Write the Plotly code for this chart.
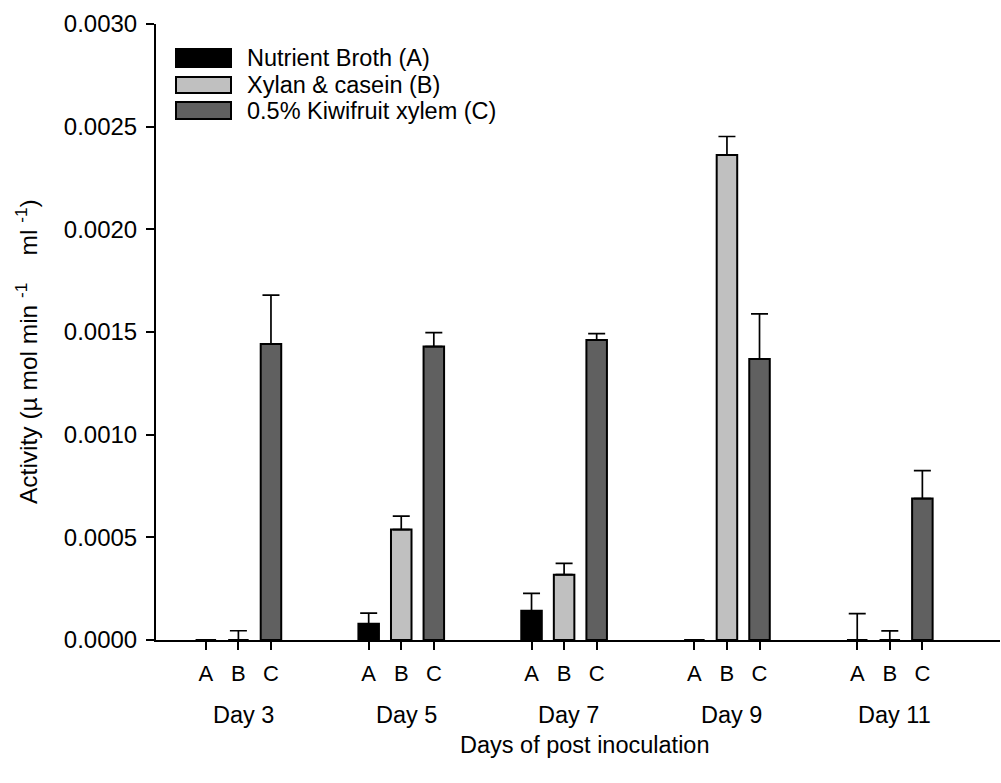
import plotly.graph_objects as go

# ---------------- data ----------------
days = ["Day 3", "Day 5", "Day 7", "Day 9", "Day 11"]
series_names = ["Nutrient Broth (A)", "Xylan & casein (B)", "0.5% Kiwifruit xylem (C)"]
series_letters = ["A", "B", "C"]

vals_A = [0.0, 0.000079, 0.000142, 0.0, 0.0]
err_A = [0.0, 0.000052, 0.000085, None, 0.000128]
vals_B = [0.0, 0.000538, 0.000318, 0.002362, 0.0]
err_B = [0.000045, 0.000065, 0.000055, 0.000090, 0.000044]
vals_C = [0.001442, 0.001429, 0.001461, 0.001369, 0.000689]
err_C = [0.000238, 0.000068, 0.000031, 0.000219, 0.000136]

y_ticks = [0.0, 0.0005, 0.0010, 0.0015, 0.0020, 0.0025, 0.0030]

# ---------------- styling ----------------
colors = ["#000000", "#c0c0c0", "#606060"]
offsets = [-0.2, 0.0, 0.2]
bar_w = 0.126
FONT = "Arial, 'Liberation Sans', sans-serif"
FS_TICK_Y = 24
FS_TICK_X = 22
FS_LEG = 23.5
FS_DAY = 23.5
FS_TITLE = 23.5
FS_YTITLE = 24.5

W, H = 1001, 783
L, R, T, B = 156, 1, 24, 143
pw, ph = W - L - R, H - T - B
px_per_unit = 162.85
x0 = -0.506
x1 = x0 + pw / px_per_unit

def px_x(p):
    return (p - L) / pw

def px_y(p):
    return (H - B - p) / ph

fig = go.Figure()
all_vals = [vals_A, vals_B, vals_C]
all_errs = [err_A, err_B, err_C]
tickvals, ticktext = [], []
for s in range(3):
    xs = [i + offsets[s] for i in range(len(days))]
    tickvals += xs
    ticktext += [series_letters[s]] * len(days)
    fig.add_trace(go.Bar(
        x=xs, y=all_vals[s], width=bar_w, name=series_names[s],
        marker=dict(color=colors[s], line=dict(color="black", width=2)),
        error_y=dict(type="data", array=all_errs[s],
                     arrayminus=[0] * len(days), symmetric=False,
                     color="black", thickness=1.7, width=8.5),
        showlegend=False,
    ))

fig.update_layout(
    width=W, height=H,
    margin=dict(l=L, r=R, t=T, b=B, pad=0),
    plot_bgcolor="white", paper_bgcolor="white",
    barmode="overlay",
    font=dict(family=FONT, size=FS_LEG, color="black"),
    xaxis=dict(range=[x0, x1], tickvals=tickvals, ticktext=ticktext,
               showline=True, linecolor="black", linewidth=2,
               ticks="outside", ticklen=8, tickwidth=1.7, tickcolor="black",
               showgrid=False, zeroline=False, ticklabelstandoff=5,
               tickfont=dict(size=FS_TICK_X)),
    yaxis=dict(range=[0, 0.003], tickvals=y_ticks, tickformat=".4f",
               showline=True, linecolor="black", linewidth=2,
               ticks="outside", ticklen=8, tickwidth=1.7, tickcolor="black",
               showgrid=False, zeroline=False, ticklabelstandoff=4,
               tickfont=dict(size=FS_TICK_Y)),
)

# Day labels under each group
for i, d in enumerate(days):
    fig.add_annotation(x=i + 0.03, y=px_y(715), xref="x", yref="paper",
                       text=d, showarrow=False, xanchor="center", yanchor="middle",
                       font=dict(size=FS_DAY))

# axis titles
NB = "\u00a0"
fig.add_annotation(x=px_x(585), y=px_y(745), xref="paper", yref="paper",
                   text="Days of post inoculation", showarrow=False,
                   xanchor="center", yanchor="middle", font=dict(size=FS_TITLE))
fig.add_annotation(x=px_x(26), y=px_y(352), xref="paper", yref="paper",
                   text="Activity (µ mol min" + NB + "<sup>-1</sup>" + NB * 4 + "ml"
                        + NB + "<sup>-1</sup>)",
                   textangle=-90, showarrow=False,
                   xanchor="center", yanchor="middle", font=dict(size=FS_YTITLE))

# legend (swatches + labels)
leg_rows = [(49, 67), (77, 93), (102, 119)]
for s, (ya, yb) in enumerate(leg_rows):
    fig.add_shape(type="rect", xref="paper", yref="paper",
                  x0=px_x(176), x1=px_x(231), y0=px_y(yb), y1=px_y(ya),
                  fillcolor=colors[s], line=dict(color="black", width=2))
    fig.add_annotation(x=px_x(245), y=px_y((ya + yb) / 2), xref="paper", yref="paper",
                       text=series_names[s], showarrow=False,
                       xanchor="left", yanchor="middle", font=dict(size=FS_LEG))

fig.write_html("out.html", config={"displayModeBar": False},
               post_script="document.body.style.margin='0px';document.body.style.overflow='hidden';")
